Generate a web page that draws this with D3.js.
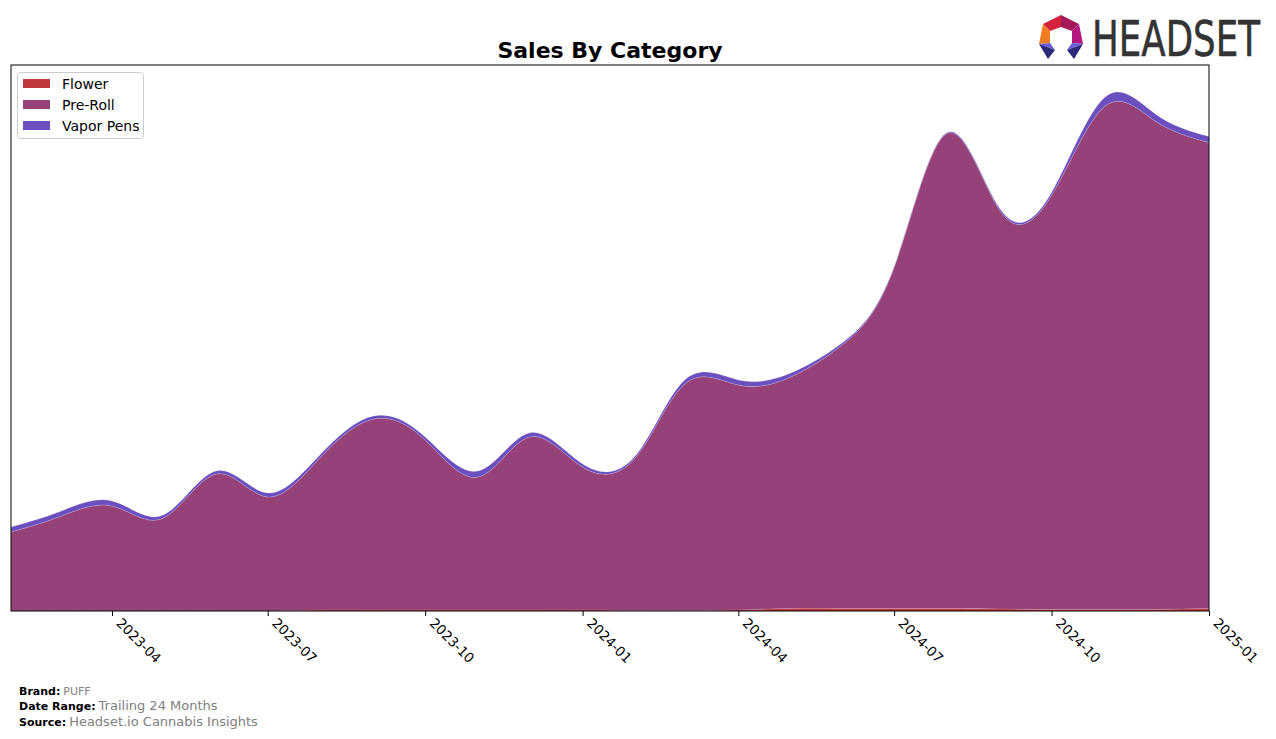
<!DOCTYPE html>
<html>
<head>
<meta charset="utf-8">
<script src="https://cdn.jsdelivr.net/npm/d3@7"></script>
<style>
  body { margin: 0; background: #fff; }
  svg { display: block; font-family: "DejaVu Sans", sans-serif; }
</style>
</head>
<body>
<svg id="chart" width="1276" height="739"></svg>
<script>
// ---- data (monthly sales, USD) ----
const months = ["2023-02-01","2023-03-01","2023-04-01","2023-05-01","2023-06-01","2023-07-01",
  "2023-08-01","2023-09-01","2023-10-01","2023-11-01","2023-12-01","2024-01-01",
  "2024-02-01","2024-03-01","2024-04-01","2024-05-01","2024-06-01","2024-07-01",
  "2024-08-01","2024-09-01","2024-10-01","2024-11-01","2024-12-01","2025-01-01"];
const flower    = [0, 0, 0, 0, 0, 0, 1000, 1000, 1000, 1000, 1000, 1000,
                   500, 500, 1000, 2500, 2500, 2500, 2500, 2000, 1500, 1500, 1500, 2500];
const preRoll   = [79000, 94000, 105000, 93000, 137000, 114000, 153000, 191000, 170000, 133000, 173000, 143000,
                   153000, 227000, 225000, 231000, 264000, 341000, 475000, 398000, 414000, 503000, 488000, 466000];
const vaporPens = [5000, 5000, 5000, 3000, 3000, 4000, 3000, 3000, 3000, 6000, 4000, 3000,
                   2000, 4000, 5000, 4000, 2000, 1000, 1000, 2000, 3000, 9000, 7000, 6000];
const categories = ["Flower", "Pre-Roll", "Vapor Pens"];
const colors = ["#C1363A", "#964278", "#6B4FBF"];
const xTicks = ["2023-04","2023-07","2023-10","2024-01","2024-04","2024-07","2024-10","2025-01"];
const yMax = 546000;

const svg = d3.select("#chart");
const L = 11, R = 1209, T = 65, B = 611;
const parse = d3.utcParse("%Y-%m-%d");
const rows = months.map((m, i) => ({date: parse(m), "Flower": flower[i], "Pre-Roll": preRoll[i], "Vapor Pens": vaporPens[i]}));

const x = d3.scaleUtc().domain([parse("2023-02-01"), parse("2025-01-01")]).range([L, R]);
const y = d3.scaleLinear().domain([0, yMax]).range([B, T]);

const stack = d3.stack().keys(categories)(rows);
const area = d3.area()
  .x(d => x(d.data.date))
  .y0(d => y(d[0]))
  .y1(d => y(d[1]))
  .curve(d3.curveNatural);

svg.append("defs").append("clipPath").attr("id", "clip")
  .append("rect").attr("x", L).attr("y", T).attr("width", R - L).attr("height", B - T);

const g = svg.append("g").attr("clip-path", "url(#clip)");
g.selectAll("path.layer").data(stack).join("path")
  .attr("class", "layer")
  .attr("d", area)
  .attr("fill", (d, i) => colors[i])
  .attr("stroke", (d, i) => i === 0 ? "none" : "#ffffff")
  .attr("stroke-opacity", 0.3)
  .attr("stroke-width", 0.5);

// frame
svg.append("rect").attr("x", L).attr("y", T).attr("width", R - L).attr("height", B - T)
  .attr("fill", "none").attr("stroke", "#000").attr("stroke-width", 1);

// x axis
const tickDates = xTicks.map(t => parse(t + "-01"));
const ax = svg.append("g").attr("transform", `translate(0,${B})`)
  .call(d3.axisBottom(x).tickValues(tickDates).tickSize(5).tickFormat(d3.utcFormat("%Y-%m")));
ax.select(".domain").remove();
ax.selectAll("line").attr("stroke", "#000");
ax.selectAll("text")
  .attr("font-family", "DejaVu Sans, sans-serif")
  .attr("font-size", 13.5)
  .attr("fill", "#000")
  .attr("text-anchor", "start")
  .attr("dy", null)
  .attr("y", 0)
  .attr("transform", "translate(3,13) rotate(45)");

// title
svg.append("text").attr("x", 610).attr("y", 58).attr("text-anchor", "middle")
  .attr("font-size", 22).attr("font-weight", "bold").text("Sales By Category");

// legend
const lg = svg.append("g");
lg.append("rect").attr("x", 17.5).attr("y", 72.5).attr("width", 126).attr("height", 66)
  .attr("rx", 3).attr("fill", "#fff").attr("fill-opacity", 0.8).attr("stroke", "#ccc");
categories.forEach((c, i) => {
  lg.append("rect").attr("x", 23).attr("y", 79 + i * 21).attr("width", 27).attr("height", 9).attr("fill", colors[i]);
  lg.append("text").attr("x", 62).attr("y", 89 + i * 21).attr("font-size", 14).attr("fill", "#000").text(c);
});

// footer
const foot = [["Brand:", "PUFF", 11], ["Date Range:", "Trailing 24 Months", 13], ["Source:", "Headset.io Cannabis Insights", 13]];
foot.forEach((f, i) => {
  const t = svg.append("text").attr("x", 19).attr("y", 695 + i * 15.3);
  t.append("tspan").attr("font-size", 11).attr("font-weight", "bold").attr("fill", "#000").text(f[0]);
  t.append("tspan").attr("dx", 3).attr("font-size", f[2]).attr("fill", "#808080").text(f[1]);
});

// logo
const logo = svg.append("g");
const polys = [
  ["#d4213d", [[1043,24],[1061,15],[1061,27],[1050,31]]],
  ["#a3195b", [[1061,15],[1079,24],[1072,31],[1061,27]]],
  ["#f47c20", [[1043,24],[1050,31],[1050,43],[1039,44]]],
  ["#b5177f", [[1079,24],[1083,44],[1072,43],[1072,31]]],
  ["#6a5fd8", [[1039,44],[1050,43],[1055,50]]],
  ["#2e2a7a", [[1039,44],[1055,50],[1048,59]]],
  ["#6a5fd8", [[1083,44],[1072,43],[1067,50]]],
  ["#2e2a7a", [[1083,44],[1067,50],[1074,59]]]
];
polys.forEach(p => logo.append("polygon").attr("points", p[1].map(q => q.join(",")).join(" ")).attr("fill", p[0]));
const lt = logo.append("text").attr("x", 0).attr("y", 0).attr("font-size", 49)
  .attr("font-family", "DejaVu Sans, sans-serif").attr("fill", "#333").attr("stroke", "#333").attr("stroke-width", 0.6)
  .text("HEADSET");
const natW = lt.node().getComputedTextLength();
lt.attr("transform", `translate(1092,56) scale(${168 / natW},1)`);
</script>
</body>
</html>
